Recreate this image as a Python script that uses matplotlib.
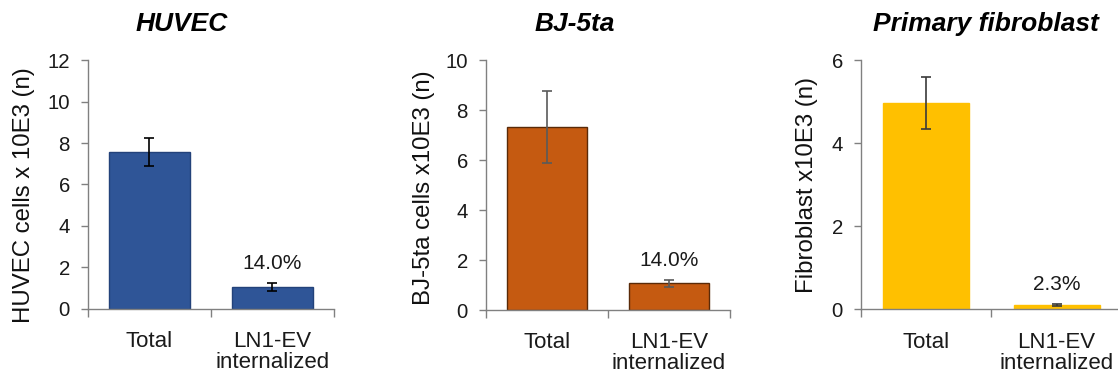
import matplotlib.pyplot as plt
from matplotlib.ticker import FixedLocator

plt.rcParams['font.family'] = ['Liberation Sans', 'DejaVu Sans']

categories = ["Total", "LN1-EV\ninternalized"]

titles = ["HUVEC", "BJ-5ta", "Primary fibroblast"]
ylabels = ["HUVEC cells x 10E3 (n)", "BJ-5ta cells x10E3 (n)", "Fibroblast x10E3 (n)"]

huvec_vals = [7.57, 1.06]
huvec_err = [0.69, 0.19]
bj_vals = [7.33, 1.07]
bj_err = [1.45, 0.13]
fibro_vals = [4.96, 0.10]
fibro_err = [0.63, 0.03]

percent_labels = ["14.0%", "14.0%", "2.3%"]
ymax = [12, 10, 6]
ystep = [2, 2, 2]

bar_colors = ["#2F5597", "#C55A11", "#FFC000"]
edge_colors = ["#23427A", "#5A2A08", "#FFC000"]
err_colors = ["#000000", "#5A5A5A", "#3A3A3A"]

# axes positions in figure fraction (left, bottom, width, height)
positions = [
    [0.0787, 0.187, 0.220, 0.655],
    [0.4347, 0.184, 0.218, 0.658],
    [0.770, 0.186, 0.2335, 0.656],
]
title_x = [0.38, 0.365, 0.48]
label_xy = [(-0.215, 0.456), (-0.209, 0.488), (-0.165, 0.5)]

fig = plt.figure(figsize=(11.18, 3.8), dpi=100)

data = [(huvec_vals, huvec_err), (bj_vals, bj_err), (fibro_vals, fibro_err)]

for i, (vals, errs) in enumerate(data):
    ax = fig.add_axes(positions[i])
    x = [0, 1]
    ax.bar(x, vals, width=0.66, color=bar_colors[i], edgecolor=edge_colors[i],
           linewidth=1.0, zorder=2)
    ax.errorbar(x, vals, yerr=errs, fmt='none', ecolor=err_colors[i],
                elinewidth=1.2, capsize=3.5, capthick=1.2, zorder=3)
    ax.annotate(percent_labels[i], xy=(1, vals[1] + errs[1]), xytext=(0, 7),
                textcoords='offset points', ha='center', va='bottom',
                fontsize=15, color='#1a1a1a')

    ax.set_xlim(-0.5, 1.5)
    ax.set_ylim(0, ymax[i])
    ax.set_yticks(range(0, ymax[i] + 1, ystep[i]))
    ax.set_xticks(x)
    ax.set_xticklabels(categories, fontsize=16, color='#1a1a1a', linespacing=1.0)
    ax.xaxis.set_minor_locator(FixedLocator([-0.5, 0.5, 1.5]))
    ax.tick_params(axis='x', which='major', length=0, pad=16)
    ax.tick_params(axis='x', which='minor', length=6, width=1, color='#808080', direction='out')
    ax.tick_params(axis='y', length=5, width=1, color='#808080', labelsize=14.7,
                   labelcolor='#1a1a1a', pad=8)

    for side in ['top', 'right']:
        ax.spines[side].set_visible(False)
    for side in ['left', 'bottom']:
        ax.spines[side].set_color('#808080')
        ax.spines[side].set_linewidth(1)

    ax.set_ylabel(ylabels[i], fontsize=17.3, color='#111111')
    ax.yaxis.set_label_coords(*label_xy[i])
    ax.text(title_x[i], 1.145, titles[i], transform=ax.transAxes, ha='center',
            va='center', fontsize=19, fontweight='bold', fontstyle='italic')

fig.savefig("out.png", dpi=100)
